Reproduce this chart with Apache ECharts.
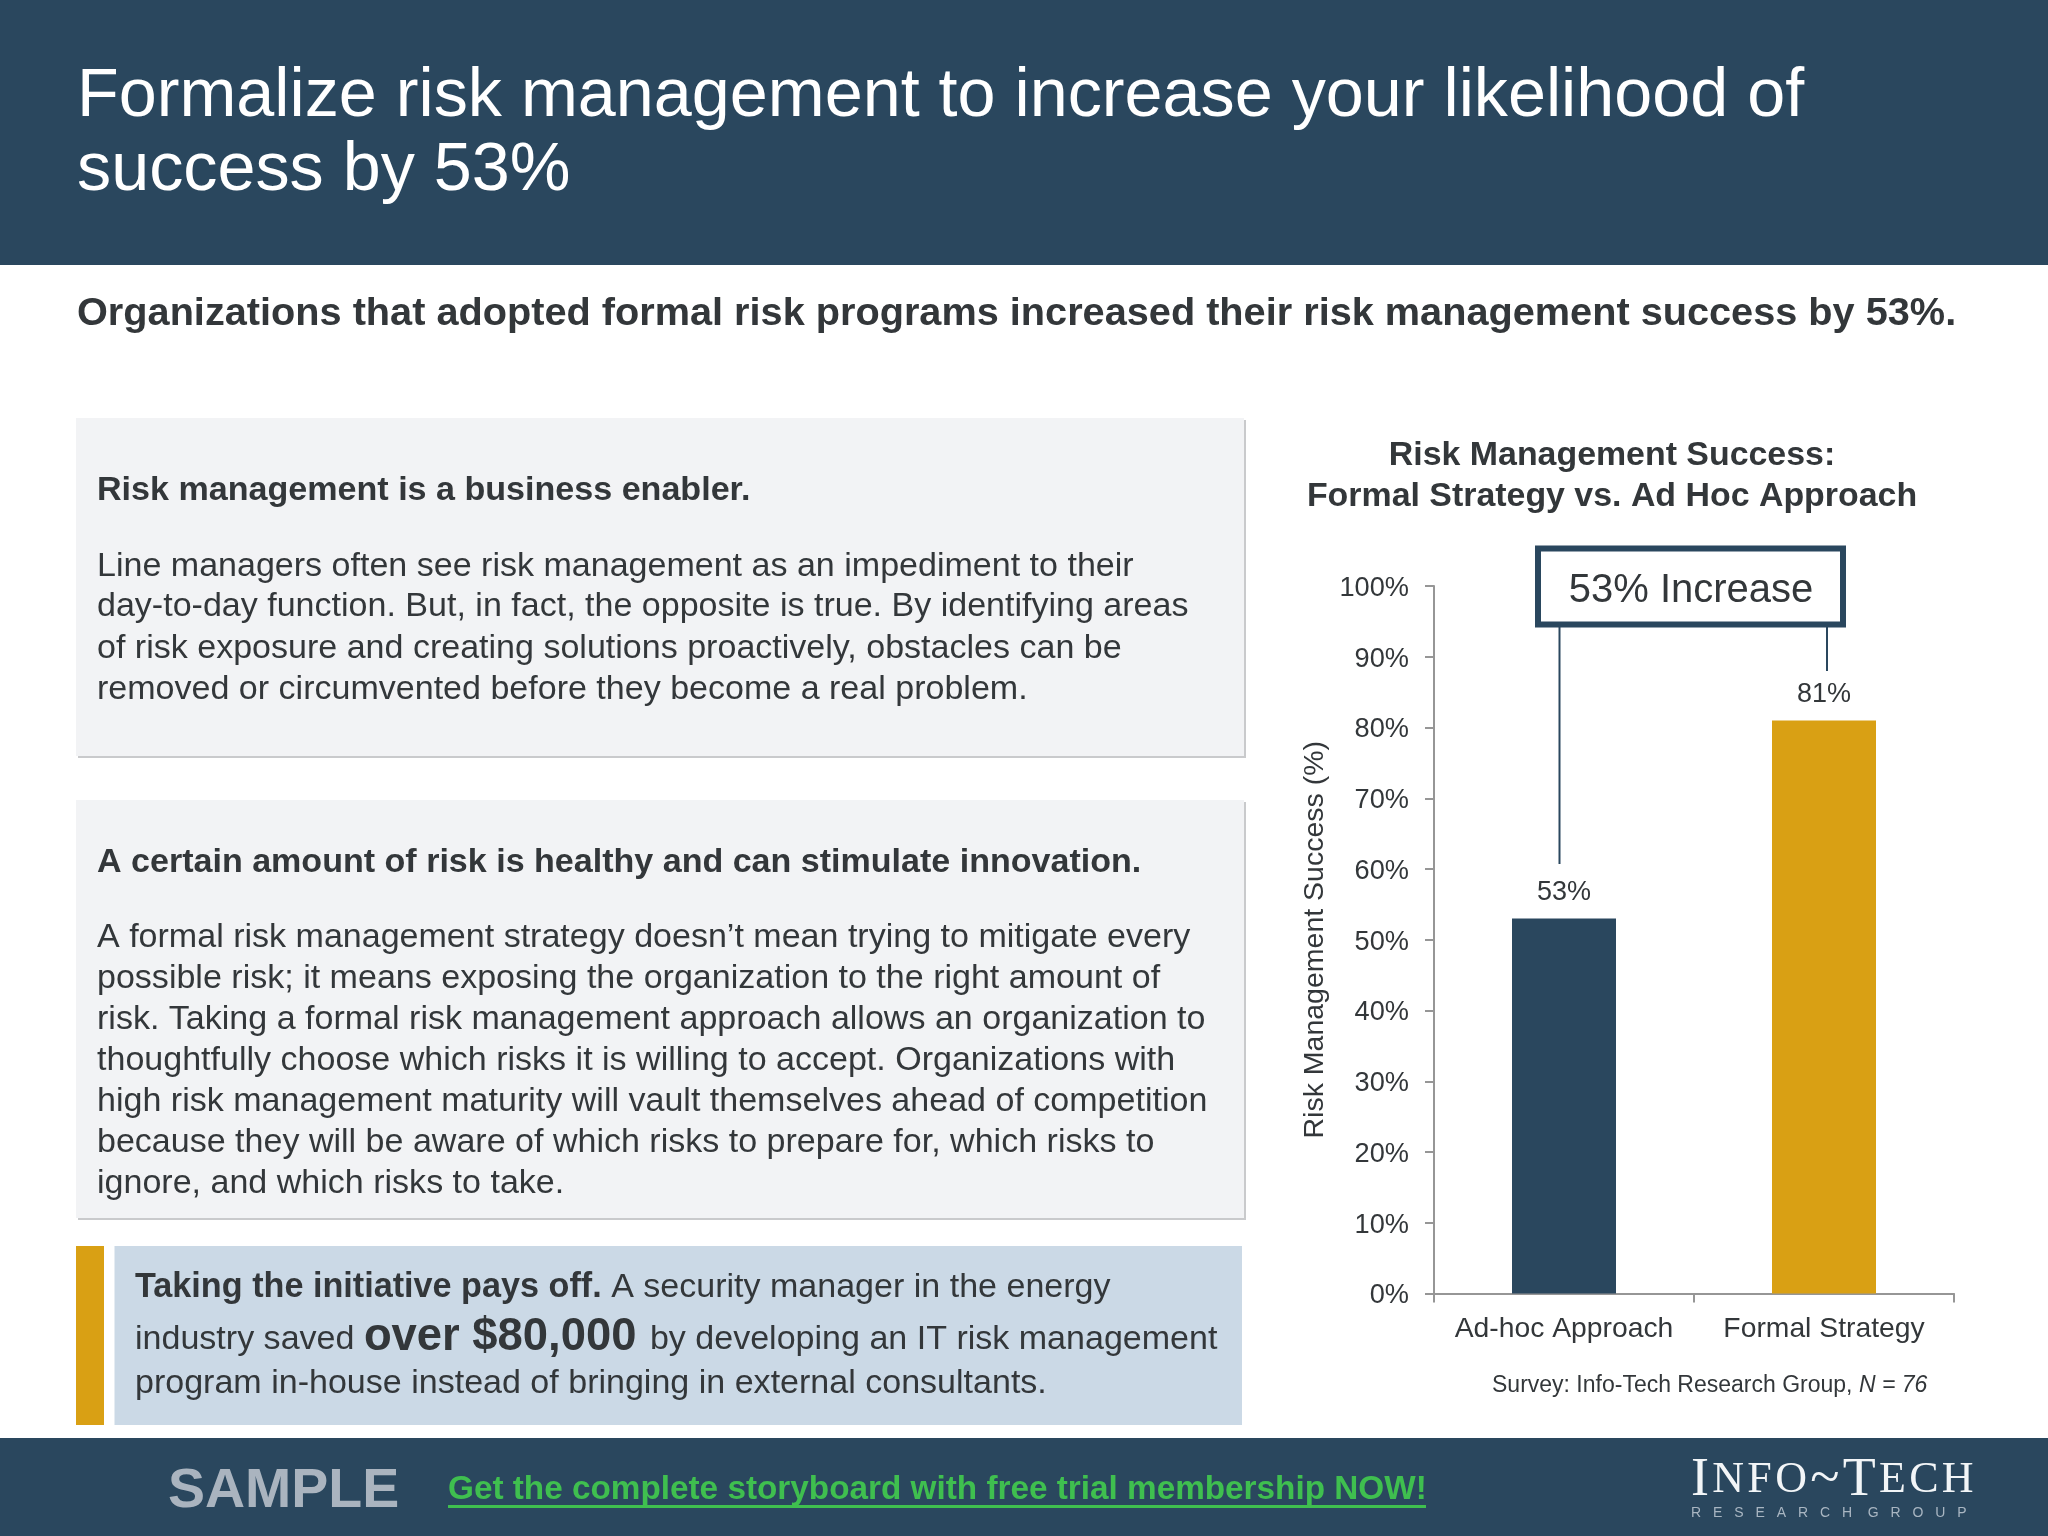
<!DOCTYPE html>
<html><head><meta charset="utf-8">
<style>html,body{margin:0;padding:0;background:#fff}#c{width:2048px;height:1536px}</style>
<script src="https://cdn.jsdelivr.net/npm/echarts@6/dist/echarts.min.js"></script>
</head><body><div id="c"></div>
<script>
const categories = ['Ad-hoc Approach', 'Formal Strategy'];
const successValues = [53, 81];
const barColors = ['#2A475E', '#D9A014'];
const headlineLines = ['Formalize risk management to increase your likelihood of', 'success by 53%'];
const subheadLine = 'Organizations that adopted formal risk programs increased their risk management success by 53%.';
const boxOneHeading = 'Risk management is a business enabler.';
const boxOneLines = ['Line managers often see risk management as an impediment to their',
  'day-to-day function. But, in fact, the opposite is true. By identifying areas',
  'of risk exposure and creating solutions proactively, obstacles can be',
  'removed or circumvented before they become a real problem.'];
const boxTwoHeading = 'A certain amount of risk is healthy and can stimulate innovation.';
const boxTwoLines = ['A formal risk management strategy doesn\u2019t mean trying to mitigate every',
  'possible risk; it means exposing the organization to the right amount of',
  'risk. Taking a formal risk management approach allows an organization to',
  'thoughtfully choose which risks it is willing to accept. Organizations with',
  'high risk management maturity will vault themselves ahead of competition',
  'because they will be aware of which risks to prepare for, which risks to',
  'ignore, and which risks to take.'];
const calloutLines = ['{b|Taking the initiative pays off.} A security manager in the energy',
  'industry saved {big|over $80,000} by developing an IT risk management',
  'program in-house instead of bringing in external consultants.'];
const chartTitleLines = ['Risk Management Success:', 'Formal Strategy vs. Ad Hoc Approach'];
const yAxisName = 'Risk Management Success (%)';
const annotationText = '53% Increase';
const sourceText = 'Survey: Info-Tech Research Group, {i|N = 76}';
const footerSample = 'SAMPLE';
const footerLink = 'Get the complete storyboard with free trial membership NOW!';
const logoTokens = [['a', 'I'], ['s', 'N'], ['s', 'F'], ['s', 'O'], ['a', '~'], ['a', 'T'], ['s', 'E'], ['s', 'C'], ['s', 'H']];
const logoSubWords = 'R E S E A R C H  G R O U P';

const FONT = '"Liberation Sans", Arial, sans-serif';
const SERIF = '"Liberation Serif", serif';
const INK = '#33373A', NAVY = '#2A475E';

function txt(text, x, y, size, opt) {
  opt = opt || {};
  return { type: 'text', z: 10, style: {
    text, x, y: y + 2.5, fontFamily: FONT, fontSize: size, fontWeight: opt.bold ? 'bold' : 'normal',
    fill: opt.fill || INK, align: opt.align || 'left', verticalAlign: 'middle', rich: opt.rich
  } };
}
function rect(x, y, w, h, fill, extra) {
  return Object.assign({ type: 'rect', z: 1, shape: { x, y, width: w, height: h }, style: { fill } }, extra || {});
}
function line(x1, y1, x2, y2, color, w) {
  return { type: 'line', z: 5, shape: { x1, y1, x2, y2 }, style: { stroke: color, lineWidth: w } };
}

const g = [];
g.push(rect(0, 0, 2048, 265, NAVY));
g.push(rect(0, 1438, 2048, 98, NAVY));
g.push(rect(78, 420, 1168, 338, '#C9CACC'), rect(76, 418, 1168, 338, '#F2F3F5', { z: 2 }));
g.push(rect(78, 802, 1168, 418, '#C9CACC'), rect(76, 800, 1168, 418, '#F2F3F5', { z: 2 }));
g.push(rect(76, 1246, 28, 179, '#D9A014'), rect(114.5, 1246, 1127.5, 179, '#CBD9E6'));

headlineLines.forEach((t, i) => g.push(txt(t, 77, [95, 168.5][i], 68.3, { fill: '#fff' })));
g.push(txt(subheadLine, 77, 311.5, 39.7, { bold: true }));
g.push(txt(boxOneHeading, 97, 488, 34.1, { bold: true }));
[564, 604.5, 646, 687].forEach((y, i) => g.push(txt(boxOneLines[i], 97, y, 34.04)));
g.push(txt(boxTwoHeading, 97, 860, 34.05, { bold: true }));
[935.5, 976.5, 1017.5, 1058.5, 1099.5, 1140.5, 1181.5].forEach((y, i) => g.push(txt(boxTwoLines[i], 97, y, 34.04)));
const calloutRich = { b: { fontFamily: FONT, fontSize: 34.2, fontWeight: 'bold', fill: INK },
  big: { fontFamily: FONT, fontSize: 45.4, fontWeight: 'bold', fill: INK, padding: [0, 4, 5, 0] } };
[1285, 1337.5, 1381].forEach((y, i) => g.push(txt(calloutLines[i], 135, y, 34.04, { rich: calloutRich })));

chartTitleLines.forEach((t, i) => g.push(txt(t, 1612, [453, 494][i], 33.9, { bold: true, align: 'center' })));

g.push({ type: 'rect', z: 6, shape: { x: 1538, y: 548.5, width: 305, height: 76 }, style: { fill: '#fff', stroke: NAVY, lineWidth: 6 } });
g.push(txt(annotationText, 1691, 588, 40, { align: 'center' }));
g.push(line(1559.5, 627, 1559.5, 864, NAVY, 2));
g.push(line(1827, 627, 1827, 671, NAVY, 2));
g.push(txt(sourceText, 1492, 1383, 23, { rich: { i: { fontFamily: FONT, fontSize: 23, fontStyle: 'italic', fill: INK } } }));

g.push(txt(footerSample, 168, 1489, 55.5, { bold: true, fill: '#AAB4BF' }));
g.push(txt(footerLink, 448, 1487, 33.3, { bold: true, fill: '#3FBF4F' }));
g.push(line(448, 1506.5, 1426, 1506.5, '#3FBF4F', 3));
g.push(txt(logoTokens.map(t => '{' + t[0] + '|' + t[1] + '}').join(''), 1691, 1478, 46, { fill: '#F2F5F7', rich: {
  a: { fontFamily: SERIF, fontSize: 54, fill: '#F2F5F7', padding: [0, 3.3, 0, 0] },
  s: { fontFamily: SERIF, fontSize: 44, fill: '#F2F5F7', padding: [0, 3.3, 0, 0] } } }));
g.push(txt(logoSubWords.replace(/\S/g, m => '{p|' + m + '}'), 1691, 1510.5, 14, { fill: '#A9B6C2', rich: {
  p: { fontFamily: FONT, fontSize: 14, fill: '#A9B6C2', padding: [0, 8, 0, 0] } } }));

const chart = echarts.init(document.getElementById('c'), null, { width: 2048, height: 1536, renderer: 'canvas' });
chart.setOption({
  animation: false,
  backgroundColor: '#fff',
  grid: { left: 1434, top: 586, width: 520, height: 707.5, containLabel: false },
  xAxis: { type: 'category', data: categories,
    axisLine: { lineStyle: { color: '#969696', width: 2 } },
    axisTick: { show: true, alignWithLabel: false, interval: 0, length: 9, lineStyle: { color: '#969696', width: 2 } },
    axisLabel: { show: true, interval: 0, hideOverlap: false, color: INK, fontFamily: FONT, fontSize: 28.3, margin: 22 } },
  yAxis: { type: 'value', min: 0, max: 100, interval: 10,
    name: yAxisName, nameLocation: 'middle', nameGap: 104, nameRotate: 90,
    nameTextStyle: { color: INK, fontFamily: FONT, fontSize: 28.5 },
    splitLine: { show: false },
    axisLine: { show: true, lineStyle: { color: '#969696', width: 2 } },
    axisTick: { show: true, length: 9, lineStyle: { color: '#969696', width: 2 } },
    axisLabel: { margin: 25, formatter: '{v|{value}%}',
      rich: { v: { color: INK, fontFamily: FONT, fontSize: 27.2, padding: [5, 0, 0, 0] } } } },
  series: [{ type: 'bar', barWidth: 104, z: 3,
    data: successValues.map((v, i) => ({ value: v, itemStyle: { color: barColors[i] } })),
    label: { show: true, position: 'top', distance: 12, color: INK, fontFamily: FONT, fontSize: 27, formatter: '{c}%' } }],
  graphic: { elements: g }
});
</script></body></html>
